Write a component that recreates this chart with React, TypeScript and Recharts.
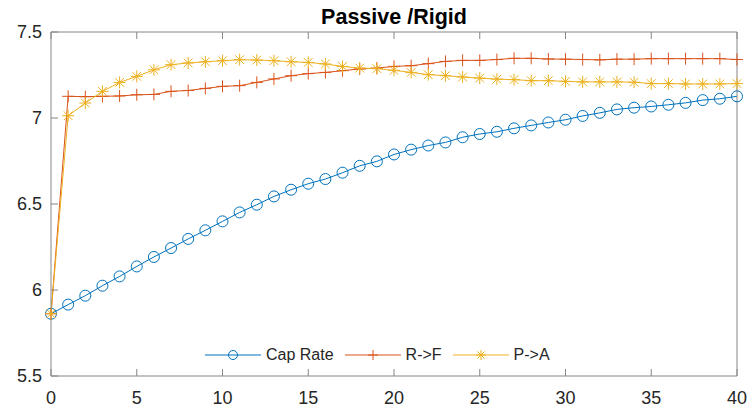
import { LineChart, Line, XAxis, YAxis, Legend } from 'recharts'

const periods = [
  0, 1, 2, 3, 4, 5, 6, 7, 8, 9, 10, 11, 12, 13, 14, 15, 16, 17, 18, 19, 20,
  21, 22, 23, 24, 25, 26, 27, 28, 29, 30, 31, 32, 33, 34, 35, 36, 37, 38, 39, 40,
]

const capRate = [
  5.862, 5.915, 5.967, 6.025, 6.079, 6.137, 6.192, 6.244, 6.297, 6.347, 6.399,
  6.451, 6.496, 6.544, 6.583, 6.618, 6.645, 6.682, 6.722, 6.748, 6.788, 6.816,
  6.84, 6.858, 6.888, 6.907, 6.92, 6.94, 6.957, 6.974, 6.99, 7.012, 7.03, 7.05,
  7.06, 7.067, 7.077, 7.088, 7.104, 7.112, 7.126,
]

const rToF = [
  5.862, 7.126, 7.124, 7.126, 7.128, 7.135, 7.137, 7.155, 7.16, 7.172, 7.184,
  7.188, 7.207, 7.227, 7.246, 7.258, 7.265, 7.275, 7.285, 7.29, 7.3, 7.304,
  7.316, 7.329, 7.335, 7.335, 7.34, 7.347, 7.347, 7.343, 7.342, 7.34, 7.338,
  7.342, 7.342, 7.345, 7.345, 7.345, 7.345, 7.345, 7.34,
]

const pToA = [
  5.862, 7.013, 7.087, 7.155, 7.207, 7.242, 7.28, 7.31, 7.32, 7.327, 7.333,
  7.339, 7.337, 7.333, 7.327, 7.323, 7.314, 7.3, 7.29, 7.287, 7.277, 7.265,
  7.252, 7.246, 7.238, 7.232, 7.226, 7.223, 7.217, 7.217, 7.213, 7.21, 7.21,
  7.21, 7.208, 7.2, 7.2, 7.198, 7.198, 7.198, 7.2,
]

const xTicks = [0, 5, 10, 15, 20, 25, 30, 35, 40]
const yTicks = [5.5, 6, 6.5, 7, 7.5]

const FONT = '"Liberation Sans", Arial, Helvetica, sans-serif'
const AXIS = '#868686'
const TEXT = '#262626'

type MarkerType = 'circle' | 'plus' | 'star'

const SERIES: { key: string; name: string; color: string; marker: MarkerType }[] = [
  { key: 'cap', name: 'Cap Rate', color: '#0072BD', marker: 'circle' },
  { key: 'rf', name: 'R->F', color: '#D95319', marker: 'plus' },
  { key: 'pa', name: 'P->A', color: '#EDB120', marker: 'star' },
]

const data = periods.map((p, i) => ({ x: p, cap: capRate[i], rf: rToF[i], pa: pToA[i] }))

const Marker = ({ cx, cy, type, color, s = 6 }: { cx: number; cy: number; type: MarkerType; color: string; s?: number }) => {
  if (type === 'circle') {
    return <circle cx={cx} cy={cy} r={s - 0.5} fill="none" stroke={color} strokeWidth={1} />
  }
  const plus = `M${cx - s},${cy}H${cx + s}M${cx},${cy - s}V${cy + s}`
  if (type === 'plus') {
    return <path d={plus} stroke={color} strokeWidth={1} fill="none" />
  }
  const d = s * 0.72
  return (
    <path
      d={`${plus}M${cx - d},${cy - d}L${cx + d},${cy + d}M${cx - d},${cy + d}L${cx + d},${cy - d}`}
      stroke={color}
      strokeWidth={1}
      fill="none"
    />
  )
}

const LegendContent = () => (
  <div style={{ display: 'flex', alignItems: 'center', fontFamily: FONT, fontSize: 16, color: TEXT }}>
    {SERIES.map((s) => (
      <div key={s.key} style={{ display: 'flex', alignItems: 'center', marginRight: 11 }}>
        <svg width={56} height={20}>
          <line x1={0} y1={10} x2={56} y2={10} stroke={s.color} strokeWidth={1} />
          <Marker cx={28} cy={10} type={s.marker} color={s.color} s={5} />
        </svg>
        <span style={{ marginLeft: 5, whiteSpace: 'nowrap' }}>{s.name}</span>
      </div>
    ))}
  </div>
)

const tickStyle = { fill: TEXT, fontSize: 18, fontFamily: FONT }

export default function App() {
  return (
    <div style={{ position: 'fixed', left: 0, top: 0, width: 752, height: 407, background: '#fff' }}>
      <div
        style={{
          position: 'absolute',
          top: 7,
          left: 0,
          width: 788,
          textAlign: 'center',
          fontFamily: FONT,
          fontWeight: 'bold',
          fontSize: 21.5,
          lineHeight: '21.5px',
          color: '#000',
        }}
      >
        Passive /Rigid
      </div>
      <LineChart width={752} height={407} data={data} margin={{ top: 31, right: 14, bottom: 6, left: 6 }}>
        <XAxis
          dataKey="x"
          type="number"
          domain={[0, 40]}
          ticks={xTicks}
          interval={0}
          height={25}
          tickSize={-7}
          tickMargin={22}
          stroke={AXIS}
          tick={tickStyle}
        />
        <XAxis
          xAxisId="top"
          orientation="top"
          dataKey="x"
          type="number"
          domain={[0, 40]}
          ticks={xTicks}
          interval={0}
          height={1}
          tickSize={-7}
          tickFormatter={() => ''}
          stroke={AXIS}
        />
        <YAxis
          type="number"
          domain={[5.5, 7.5]}
          ticks={yTicks}
          interval={0}
          width={45}
          tickSize={-7}
          tickMargin={16}
          stroke={AXIS}
          tick={tickStyle}
        />
        <YAxis
          yAxisId="right"
          orientation="right"
          type="number"
          domain={[5.5, 7.5]}
          ticks={yTicks}
          interval={0}
          width={1}
          tickSize={-7}
          tickFormatter={() => ''}
          stroke={AXIS}
        />
        <Legend
          layout="horizontal"
          verticalAlign="middle"
          align="center"
          wrapperStyle={{ top: 345, left: 205, width: 'auto' }}
          content={<LegendContent />}
        />
        {SERIES.map((s) => (
          <Line
            key={s.key}
            dataKey={s.key}
            name={s.name}
            type="linear"
            stroke={s.color}
            strokeWidth={1}
            isAnimationActive={false}
            activeDot={false}
            dot={(props: any) => (
              <Marker key={`${s.key}-${props.index}`} cx={props.cx} cy={props.cy} type={s.marker} color={s.color} />
            )}
          />
        ))}
      </LineChart>
    </div>
  )
}
